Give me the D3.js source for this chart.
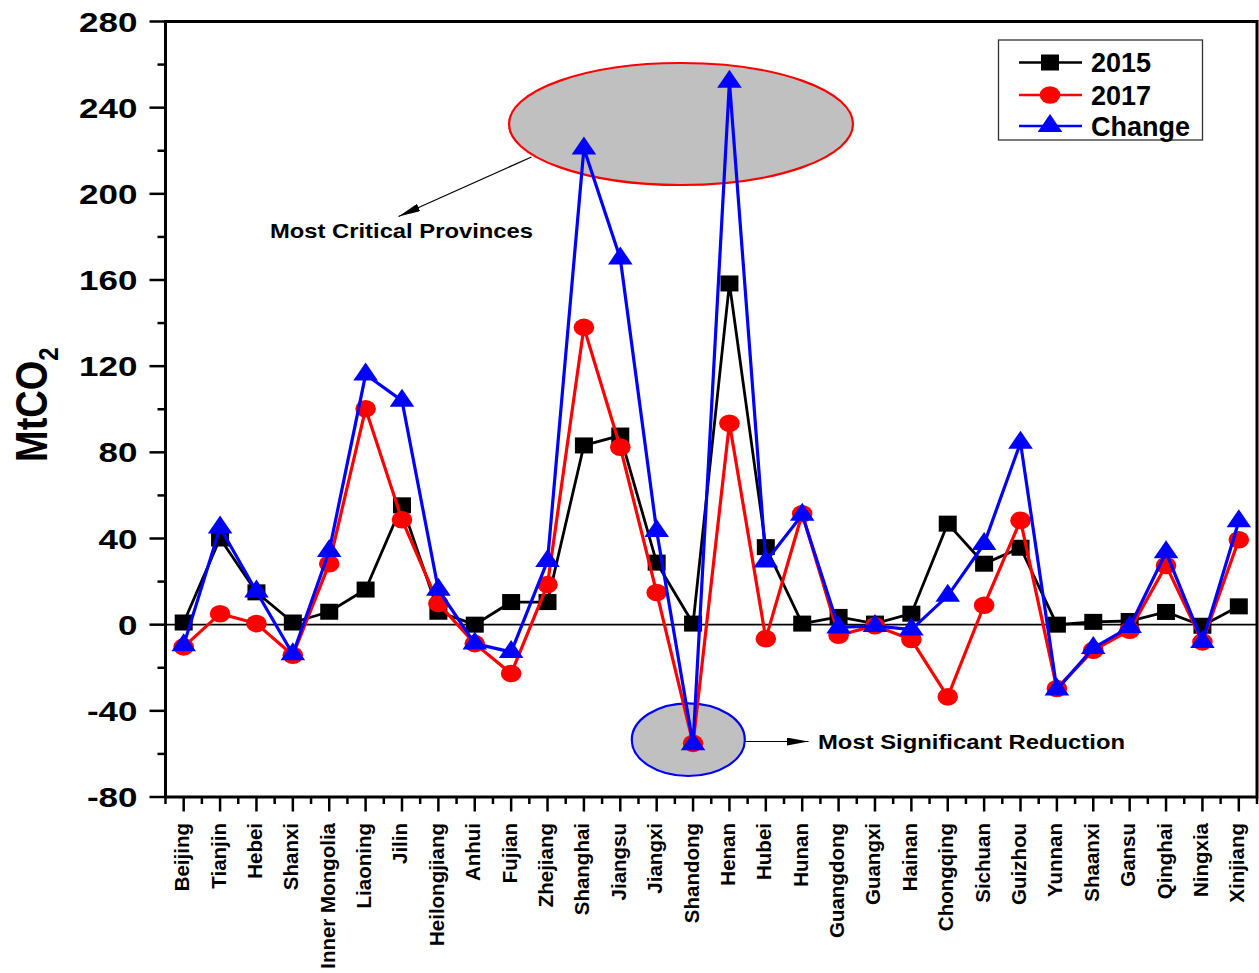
<!DOCTYPE html>
<html>
<head>
<meta charset="utf-8">
<script src="https://cdn.jsdelivr.net/npm/d3@7/dist/d3.min.js"></script>
<style>
  html, body { margin: 0; padding: 0; background: #fff; }
  svg { display: block; font-family: "Liberation Sans", Arial, sans-serif; font-weight: bold; }
</style>
</head>
<body>
<svg id="chart" width="1259" height="973"></svg>
<script>
// Provincial CO2 emissions (MtCO2)
const provinces = ["Beijing","Tianjin","Hebei","Shanxi","Inner Mongolia","Liaoning","Jilin","Heilongjiang","Anhui","Fujian","Zhejiang","Shanghai","Jiangsu","Jiangxi","Shandong","Henan","Hubei","Hunan","Guangdong","Guangxi","Hainan","Chongqing","Sichuan","Guizhou","Yunnan","Shaanxi","Gansu","Qinghai","Ningxia","Xinjiang"];
const values2015 = [1, 40, 15, 1, 6, 16.3, 55.4, 6, 0, 10.5, 10.5, 83.2, 87.8, 28.8, 0.5, 158.4, 36, 0.5, 3.6, 0.5, 5.1, 46.9, 28.3, 35.7, 0, 1.3, 1.7, 5.9, -0.5, 8.5];
const values2017 = [-10.3, 5.1, 0.5, -14.2, 28.3, 100.2, 48.7, 9.8, -8.8, -22.7, 18.6, 138, 82.4, 14.9, -55.1, 93.5, -6.5, 51.5, -4.9, -0.5, -6.9, -33.5, 9, 48.4, -29.6, -11.9, -2.6, 27.5, -8, 39.4];
const valuesChange = [-9.5, 45.1, 15.4, -13.7, 34.2, 116.1, 104, 16.2, -8.8, -12.7, 29.6, 221, 170, 43.5, -55.5, 252, 29.3, 51, -1.3, -0.6, -2.3, 13.4, 37.5, 84.5, -30.1, -10.8, -1.1, 33.6, -8, 48];
const seriesNames = ["2015", "2017", "Change"];
const yMajorTicks = [-80, -40, 0, 40, 80, 120, 160, 200, 240, 280];
const yMinorTicks = [-60, -20, 20, 60, 100, 140, 180, 220, 260];

const svg = d3.select("#chart");

const plotLeft = 165.5, plotRight = 1257, plotTop = 21.5, plotBottom = 797;

const x = d3.scalePoint().domain(provinces).range([plotLeft, plotRight]).padding(0.5);
const y = d3.scaleLinear().domain([-80, 280]).range([plotBottom, plotTop]);

// Highlight ellipses (behind the data)
svg.append("ellipse")
  .attr("cx", 681).attr("cy", 124).attr("rx", 172).attr("ry", 61)
  .attr("fill", "#c0c0c0").attr("stroke", "#ff0000").attr("stroke-width", 2.2);
svg.append("ellipse")
  .attr("cx", 688.3).attr("cy", 739.7).attr("rx", 56.5).attr("ry", 36.3)
  .attr("fill", "#c0c0c0").attr("stroke", "#0000ff").attr("stroke-width", 2.2);

// Arrow marker
const defs = svg.append("defs");
defs.append("marker")
  .attr("id", "arrowHead")
  .attr("viewBox", "0 0 22 8")
  .attr("refX", 22).attr("refY", 4)
  .attr("markerWidth", 22).attr("markerHeight", 8)
  .attr("markerUnits", "userSpaceOnUse")
  .attr("orient", "auto")
  .append("path").attr("d", "M0,0 L22,4 L0,8 Z").attr("fill", "#000");

svg.append("line")
  .attr("x1", 531.5).attr("y1", 157).attr("x2", 398.5).attr("y2", 216.5)
  .attr("stroke", "#000").attr("stroke-width", 1.2).attr("marker-end", "url(#arrowHead)");
svg.append("line")
  .attr("x1", 745).attr("y1", 741.5).attr("x2", 808.5).attr("y2", 741.5)
  .attr("stroke", "#000").attr("stroke-width", 1.2).attr("marker-end", "url(#arrowHead)");

svg.append("text").attr("x", 270).attr("y", 237.5)
  .attr("font-size", 21).attr("textLength", 263).attr("lengthAdjust", "spacingAndGlyphs")
  .text("Most Critical Provinces");
svg.append("text").attr("x", 818).attr("y", 748.5)
  .attr("font-size", 21).attr("textLength", 307).attr("lengthAdjust", "spacingAndGlyphs")
  .text("Most Significant Reduction");

// Zero reference line
svg.append("line")
  .attr("x1", plotLeft).attr("x2", plotRight).attr("y1", y(0)).attr("y2", y(0))
  .attr("stroke", "#000").attr("stroke-width", 1.6);

// Y axis ticks and labels
const yAxisG = svg.append("g");
yAxisG.selectAll("line.major").data(yMajorTicks).join("line").attr("class", "major")
  .attr("x1", plotLeft - 16).attr("x2", plotLeft).attr("y1", d => y(d)).attr("y2", d => y(d))
  .attr("stroke", "#000").attr("stroke-width", 2.5);
yAxisG.selectAll("line.minor").data(yMinorTicks).join("line").attr("class", "minor")
  .attr("x1", plotLeft - 8).attr("x2", plotLeft).attr("y1", d => y(d)).attr("y2", d => y(d))
  .attr("stroke", "#000").attr("stroke-width", 2.5);
yAxisG.selectAll("text").data(yMajorTicks).join("text")
  .attr("transform", d => `translate(137.5,${y(d)}) scale(1.25,1)`)
  .attr("text-anchor", "end").attr("dy", "0.36em")
  .attr("font-size", 28)
  .text(d => d);

// Y axis title
const yTitle = svg.append("text")
  .attr("transform", "translate(47,462) scale(1.18,1) rotate(-90)")
  .attr("font-size", 38);
yTitle.append("tspan").text("MtCO");
yTitle.append("tspan").attr("font-size", 24).attr("dy", 9).text("2");

// X axis ticks and labels
const step = x.step();
const xAxisG = svg.append("g");
xAxisG.selectAll("line.major").data(provinces).join("line").attr("class", "major")
  .attr("x1", d => x(d)).attr("x2", d => x(d)).attr("y1", plotBottom).attr("y2", plotBottom + 14.5)
  .attr("stroke", "#000").attr("stroke-width", 2.5);
xAxisG.selectAll("line.minor").data(d3.range(provinces.length + 1)).join("line").attr("class", "minor")
  .attr("x1", i => plotLeft + i * step).attr("x2", i => plotLeft + i * step)
  .attr("y1", plotBottom).attr("y2", plotBottom + 7)
  .attr("stroke", "#000").attr("stroke-width", 2.5);
xAxisG.selectAll("text").data(provinces).join("text")
  .attr("transform", d => `translate(${x(d) + 5.5},823) rotate(-90)`)
  .attr("text-anchor", "end")
  .attr("font-size", 20.5)
  .text(d => d);

// Plot frame
svg.append("rect")
  .attr("x", plotLeft).attr("y", plotTop).attr("width", plotRight - plotLeft).attr("height", plotBottom - plotTop)
  .attr("fill", "none").attr("stroke", "#000").attr("stroke-width", 3);

// Marker shapes
function drawMarker(g, shape, color) {
  if (shape === "square") {
    g.append("rect").attr("x", -9).attr("y", -8).attr("width", 18).attr("height", 16).attr("fill", color);
  } else if (shape === "circle") {
    g.append("ellipse").attr("rx", 10.3).attr("ry", 8.8).attr("fill", color);
  } else {
    // centroid-centred triangle
    g.append("path").attr("d", "M0,-12 L12.3,6 L-12.3,6 Z").attr("fill", color);
  }
}

const series = [
  { name: seriesNames[0], values: values2015, color: "#000000", shape: "square", width: 2.8 },
  { name: seriesNames[1], values: values2017, color: "#ff0000", shape: "circle", width: 3.2 },
  { name: seriesNames[2], values: valuesChange, color: "#0000ff", shape: "triangle", width: 3.2 }
];

const line = d3.line().x((d, i) => x(provinces[i])).y(d => y(d));

series.forEach(s => {
  const g = svg.append("g");
  g.append("path").datum(s.values).attr("d", line)
    .attr("fill", "none").attr("stroke", s.color).attr("stroke-width", s.width)
    .attr("stroke-linejoin", "miter");
  g.selectAll("g.pt").data(s.values).join("g").attr("class", "pt")
    .attr("transform", (d, i) => `translate(${x(provinces[i])},${y(d)})`)
    .each(function () { drawMarker(d3.select(this), s.shape, s.color); });
});

// Legend
const legend = svg.append("g");
legend.append("rect").attr("x", 998.5).attr("y", 40).attr("width", 204).attr("height", 100)
  .attr("fill", "#fff").attr("stroke", "#333").attr("stroke-width", 1.3);
const rowsY = [62.5, 95, 126];
series.forEach((s, i) => {
  const row = legend.append("g").attr("transform", `translate(0,${rowsY[i]})`);
  row.append("line").attr("x1", 1019).attr("x2", 1082).attr("y1", 0).attr("y2", 0)
    .attr("stroke", s.color).attr("stroke-width", 2.6);
  const m = row.append("g").attr("transform", "translate(1050,0)");
  drawMarker(m, s.shape, s.color);
  row.append("text").attr("x", 1091).attr("y", 9.5).attr("font-size", 27).text(s.name);
});
</script>
</body>
</html>
